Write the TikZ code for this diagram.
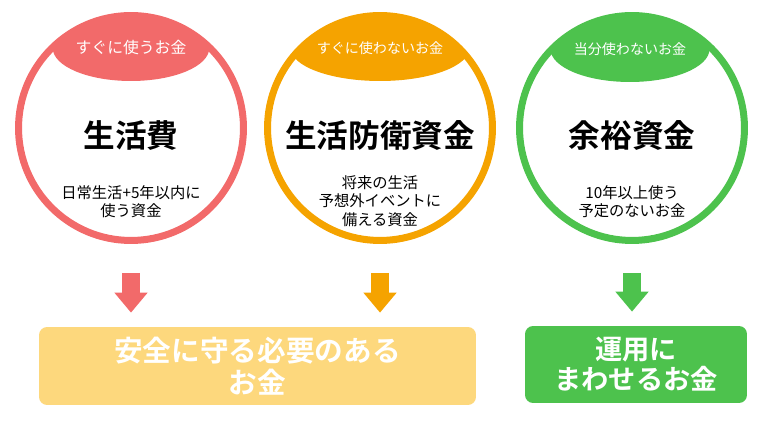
\documentclass[tikz,border=0pt]{standalone}
\usepackage{fontspec}
\setmainfont{Noto Sans CJK JP}[BoldFont={Noto Sans CJK JP Bold}]
\definecolor{coral}{HTML}{F26A6A}
\definecolor{amber}{HTML}{F5A300}
\definecolor{leaf}{HTML}{4DC24D}
\definecolor{cream}{HTML}{FDD87D}
\usetikzlibrary{arrows.meta,positioning,calc,shapes.geometric}
\tikzset{
  ring/.style={circle,draw,line width=0.14cm,minimum size=4.5cm,inner sep=0pt},
  tagell/.style={ellipse,minimum width=2.74cm,minimum height=1.32cm,inner sep=0pt,text=white,font=\fontsize{8}{9}\selectfont},
  ttl/.style={font=\fontsize{18}{20}\selectfont\bfseries},
  subtxt/.style={align=center,font=\fontsize{8.7}{10.4}\selectfont},
  downarr/.style={-{Triangle[width=0.64cm,length=0.4cm]},line width=0.36cm},
  sumbox/.style={rounded corners=0.16cm,inner sep=0pt,text=white,align=center},
}
\begin{document}
\begin{tikzpicture}[x=0.02cm,y=-0.02cm]
        \useasboundingbox (0,0) rectangle (760,428);
        \def\cy{128}\def\ringr{112}
        % --- yuqoridagi belgilar (ellips, halqa ichida kesilgan) ---
        \begin{scope}
          \clip (131,\cy) circle (\ringr);
          \node[tagell,fill=coral,font=\fontsize{9}{10}\selectfont] (t1) at (131,48) {すぐに使うお金};
        \end{scope}
        \begin{scope}
          \clip (380,\cy) circle (\ringr);
          \node[tagell,fill=amber] (t2) at (380,48) {すぐに使わないお金};
        \end{scope}
        \begin{scope}
          \clip (632,\cy) circle (\ringr);
          \node[tagell,fill=leaf] (t3) at (630,49) {当分使わないお金};
        \end{scope}
        % halqalar
        \node[ring,draw=coral] (c1) at (131,\cy) {};
        \node[ring,draw=amber] (c2) at (380,\cy) {};
        \node[ring,draw=leaf]  (c3) at (632,\cy) {};
        % titles and notes
        \node[ttl] (n1) at (131,136) {生活費};
        \node[ttl] (n2) at (380,135) {生活防衛資金};
        \node[ttl] (n3) at (632,135) {余裕資金};
        \node[subtxt] (s1) at (131,202) {日常生活+5年以内に\\使う資金};
        \node[subtxt] (s2) at (380,201) {将来の生活\\予想外イベントに\\備える資金};
        \node[subtxt] (s3) at (632,202) {10年以上使う\\予定のないお金};
        % bottom boxes
        \node[sumbox,fill=cream,minimum width=8.74cm,minimum height=1.56cm,
              font=\fontsize{16.3}{18.2}\selectfont\bfseries] (safe) at (257.5,366) {安全に守る必要のある\\お金};
        \node[sumbox,fill=leaf,minimum width=4.44cm,minimum height=1.54cm,
              font=\fontsize{15.5}{17}\selectfont\bfseries] (invest) at (636,364.5) {運用に\\まわせるお金};
        % arrows
        \draw[downarr,coral] ($(c1.south)+(0,29)$) -- ($(c1.south |- safe.north)+(0,-14)$);
        \draw[downarr,amber] ($(c2.south)+(0,29)$) -- ($(c2.south |- safe.north)+(0,-14)$);
        \draw[downarr,leaf]  ($(c3.south)+(0,29)$) -- ($(c3.south |- invest.north)+(0,-14)$);
      \end{tikzpicture}
\end{document}
